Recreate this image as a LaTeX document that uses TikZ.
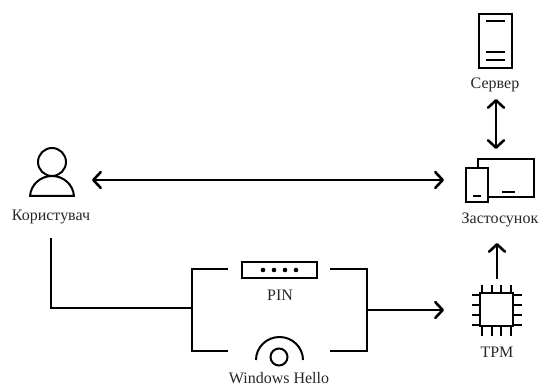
\documentclass[tikz,border=0pt]{standalone}
\usepackage{fontspec}
\setmainfont{Liberation Serif}
\usetikzlibrary{arrows.meta,positioning}
\tikzset{
  icon/.style={draw, line width=2pt, inner sep=0pt, outer sep=0pt},
  conn/.style={line width=2.6pt},
  arr/.style={conn, {Straight Barb[length=7.5pt,width=16pt,round]}-{Straight Barb[length=7.5pt,width=16pt,round]}},
  tip/.style={conn, -{Straight Barb[length=7.5pt,width=16pt,round]}},
  lab/.style={inner sep=0pt, text=black!85, font=\fontsize{16}{18}\selectfont},
}
\begin{document}
\begin{tikzpicture}[x=1pt, y=-1pt]
  \useasboundingbox (0,0) rectangle (539,385);
  % user
  \node[icon, circle, minimum size=28pt] (head) at (52,162) {};
  \draw[icon, line join=round] (30,196) .. controls (31,184) and (41,176) .. (52,176) .. controls (63,176) and (73,184) .. (74,196) -- cycle;
  \node[lab] (userlab) at (51,217) {Користувач};
  % server
  \node[icon, minimum width=33pt, minimum height=54pt] (server) at (495.5,41) {};
  \draw[icon] (486,21) -- (505,21);
  \foreach \y in {52,60} {
    \draw[icon] (486,\y) -- (505,\y);
  }
  \node[lab] (serverlab) at (495,85) {Сервер};
  % app
  \draw[icon] (478,168) -- (478,159) -- (534,159) -- (534,197) -- (488,197);
  \node[icon, minimum width=22pt, minimum height=34pt] (phone) at (477,185) {};
  \draw[icon] (502,192) -- (515,192);
  \draw[icon] (473,196) -- (481,196);
  \node[lab] (applab) at (500,220) {Застосунок};
  % tpm
  \node[icon, minimum size=33pt] (tpm) at (496.5,310) {};
  \foreach \i in {482,492,501,511} {
    \draw[icon] (\i,285) -- (\i,293);
    \draw[icon] (\i,327) -- (\i,336);
  }
  \foreach \j in {295,305,315,325} {
    \draw[icon] (472,\j) -- (480,\j);
    \draw[icon] (513,\j) -- (522,\j);
  }
  \node[lab] (tpmlab) at (497,352) {TPM};
  % pin
  \node[icon, minimum width=75pt, minimum height=16pt] (pin) at (279.5,270) {};
  \foreach \i in {263,274,285,296} {
    \fill (\i,270) circle (2.3pt);
  }
  \node[lab] (pinlab) at (280,295) {PIN};
  % windows hello
  \node[icon, circle, minimum size=17pt] (eye) at (279,357) {};
  \draw[icon] (256,360) arc[start angle=180, end angle=0, x radius=23.5pt, y radius=23pt];
  \node[lab] (hellolab) at (279,378) {Windows Hello};
  % connectors
  \coordinate (userend) at (92,180);
  \coordinate (append) at (444,180);
  \draw[arr] (userend) -- (append);
  \coordinate (servertip) at (496,99);
  \coordinate (apptip) at (496,149);
  \draw[arr] (servertip) -- (apptip);
  \coordinate (tpmtop) at (497,279);
  \coordinate (apptop) at (497,243);
  \draw[tip] (tpmtop) -- (apptop);
  \coordinate (userbot) at (51,238);
  \coordinate (forkl) at (192,308);
  \draw[conn] (userbot) |- (forkl);
  \coordinate (ltop) at (228,269);
  \coordinate (lbot) at (228,351);
  \coordinate (rtop) at (330,269);
  \coordinate (rbot) at (330,351);
  \draw[conn] (ltop) -| (forkl) |- (lbot);
  \coordinate (forkr) at (367,310);
  \draw[conn] (rtop) -| (forkr) |- (rbot);
  \coordinate (tpmin) at (444,310);
  \draw[tip] (forkr) -- (tpmin);
\end{tikzpicture}
\end{document}
